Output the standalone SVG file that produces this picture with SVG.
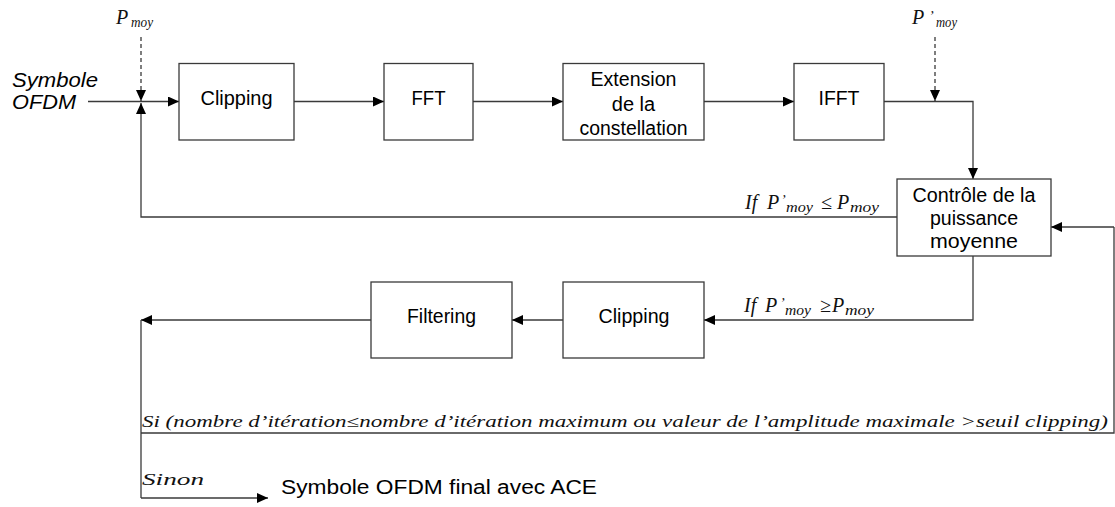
<svg xmlns="http://www.w3.org/2000/svg" width="1115" height="507" viewBox="0 0 1115 507">
<style>
.box{fill:#fff;stroke:#3a3a3a;stroke-width:1.3}
.ln{fill:none;stroke:#3a3a3a;stroke-width:1.3}
.arr{marker-end:url(#ah)}
.dash{stroke-dasharray:4 3}
.t{font-family:"Liberation Sans",Arial,sans-serif;font-size:20px;fill:#000;text-anchor:middle}
.ti{font-family:"Liberation Sans",Arial,sans-serif;font-size:21px;font-style:italic;fill:#000}
.m{font-family:"Liberation Serif","Times New Roman",serif;font-style:italic;font-weight:normal;font-size:20px;fill:#111}
.s{font-family:"Liberation Serif","Times New Roman",serif;font-style:italic;font-weight:normal;font-size:14px;fill:#111}
.c{font-family:"Liberation Serif","Times New Roman",serif;font-style:italic;font-weight:normal;font-size:16px;fill:#111}
</style>
<defs>
<marker id="ah" markerUnits="userSpaceOnUse" markerWidth="11" markerHeight="10" refX="11" refY="5" orient="auto">
<path d="M0,0 L11,5 L0,10 z" fill="#000"/>
</marker>
</defs>
<rect width="1115" height="507" fill="#fff"/>

<g id="connectors">
<path class="ln arr" d="M88,101.5 H179"/>
<path class="ln arr dash" d="M141,37 V101"/>
<path class="ln arr" d="M897,217 H141 V103"/>
<path class="ln arr" d="M294,101.5 H384"/>
<path class="ln arr" d="M473,101.5 H563"/>
<path class="ln arr" d="M704,101.5 H794"/>
<path class="ln arr" d="M884,101.5 H973 V179"/>
<path class="ln arr dash" d="M935,37 V101"/>
<path class="ln arr" d="M973,256 V320 H704"/>
<path class="ln arr" d="M563,320 H512"/>
<path class="ln arr" d="M371,320 H141"/>
<path class="ln" d="M141,320 V498"/>
<path class="ln" d="M141,433 H1114 V227"/>
<path class="ln arr" d="M1114,227 H1051"/>
<path class="ln arr" d="M141,498 H268"/>
</g>

<g id="input-label">
<text class="ti" x="12" y="87" textLength="86" lengthAdjust="spacingAndGlyphs">Symbole</text>
<text class="ti" x="12" y="109" textLength="64" lengthAdjust="spacingAndGlyphs">OFDM</text>
</g>

<g id="pmoy-label">
<text class="m" x="116" y="24">P</text>
<text class="s" x="131" y="27" textLength="22" lengthAdjust="spacingAndGlyphs">moy</text>
</g>

<g id="pmoy2-label">
<text class="m" x="912" y="24">P</text>
<text class="s" x="929" y="21">’</text>
<text class="s" x="936" y="27" textLength="21" lengthAdjust="spacingAndGlyphs">moy</text>
</g>

<g id="clipping1">
<rect class="box" x="179" y="63.5" width="115" height="76.5"/>
<text class="t" x="236.5" y="105" textLength="72" lengthAdjust="spacingAndGlyphs">Clipping</text>
</g>

<g id="fft">
<rect class="box" x="384" y="63.5" width="89" height="76.5"/>
<text class="t" x="428.5" y="105" textLength="34" lengthAdjust="spacingAndGlyphs">FFT</text>
</g>

<g id="extension">
<rect class="box" x="563" y="63.5" width="141" height="76.5"/>
<text class="t" x="633.5" y="86" textLength="86" lengthAdjust="spacingAndGlyphs">Extension</text>
<text class="t" x="633.5" y="111">de la</text>
<text class="t" x="633.5" y="135" textLength="108" lengthAdjust="spacingAndGlyphs">constellation</text>
</g>

<g id="ifft">
<rect class="box" x="794" y="63.5" width="90" height="76.5"/>
<text class="t" x="839" y="105" textLength="41" lengthAdjust="spacingAndGlyphs">IFFT</text>
</g>

<g id="controle">
<rect class="box" x="897" y="179" width="154" height="77"/>
<text class="t" x="974" y="202" textLength="123" lengthAdjust="spacingAndGlyphs">Contrôle de la</text>
<text class="t" x="974" y="225" textLength="88" lengthAdjust="spacingAndGlyphs">puissance</text>
<text class="t" x="974" y="248" textLength="88" lengthAdjust="spacingAndGlyphs">moyenne</text>
</g>

<g id="cond-le">
<text class="m" x="745" y="209">If</text>
<text class="m" x="767" y="209">P</text>
<text class="s" x="781" y="205">’</text>
<text class="s" x="786" y="212" textLength="27" lengthAdjust="spacingAndGlyphs">moy</text>
<text class="m" x="821" y="209">≤</text>
<text class="m" x="837" y="209">P</text>
<text class="s" x="850" y="212" textLength="29" lengthAdjust="spacingAndGlyphs">moy</text>
</g>

<g id="cond-ge">
<text class="m" x="744" y="312">If</text>
<text class="m" x="765" y="312">P</text>
<text class="s" x="780" y="308">’</text>
<text class="s" x="785" y="315" textLength="26" lengthAdjust="spacingAndGlyphs">moy</text>
<text class="m" x="820" y="312">≥</text>
<text class="m" x="832" y="312">P</text>
<text class="s" x="845" y="315" textLength="29" lengthAdjust="spacingAndGlyphs">moy</text>
</g>

<g id="clipping2">
<rect class="box" x="563" y="282" width="141" height="76"/>
<text class="t" x="634" y="323" textLength="71" lengthAdjust="spacingAndGlyphs">Clipping</text>
</g>

<g id="filtering">
<rect class="box" x="371" y="282" width="141" height="76"/>
<text class="t" x="441.5" y="323" textLength="69" lengthAdjust="spacingAndGlyphs">Filtering</text>
</g>

<g id="loop-condition">
<text class="c" x="142" y="427" textLength="966" lengthAdjust="spacingAndGlyphs">Si (nombre d’itération≤nombre d’itération maximum ou valeur de l’amplitude maximale &gt;seuil clipping)</text>
</g>

<g id="sinon">
<text class="c" x="142" y="485" textLength="62" lengthAdjust="spacingAndGlyphs">Sinon</text>
</g>

<g id="output">
<text class="t" x="281" y="494" style="text-anchor:start" font-size="19" textLength="316" lengthAdjust="spacingAndGlyphs">Symbole OFDM final avec ACE</text>
</g>
</svg>
